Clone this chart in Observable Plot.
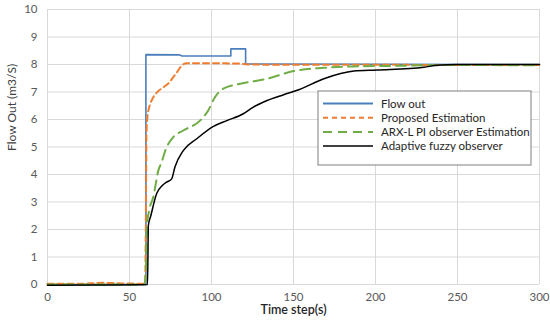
<!DOCTYPE html>
<html><head><meta charset="utf-8">
<script src="https://cdn.jsdelivr.net/npm/d3@7"></script>
<script src="https://cdn.jsdelivr.net/npm/@observablehq/plot@0.6"></script>
<style>
body{margin:0;background:#fff}
#chart{position:relative;width:550px;height:325px}
</style>
</head><body><div id="chart"></div>
<script>
const xTicks = [0, 50, 100, 150, 200, 250, 300];
const yTicks = [0, 1, 2, 3, 4, 5, 6, 7, 8, 9, 10];
const xLabel = "Time step(s)";
const yLabel = "Flow Out (m3/S)";
const seriesNames = ["Flow out", "Proposed Estimation", "ARX-L PI observer Estimation", "Adaptive fuzzy observer"];

const flowT = [0, 60, 60, 80.6, 82, 111.8, 111.8, 120.8, 120.8, 300];
const flowV = [0, 0, 8.36, 8.35, 8.31, 8.31, 8.57, 8.57, 8.02, 8.0];

const propT = [0, 20, 35, 45, 59.5, 60, 60.3, 60.9, 61.8, 63, 64.5, 67, 70.6, 74, 76.7, 79, 81.8, 84.9, 90, 100, 110, 117.6, 122, 150, 200, 250, 300];
const propV = [0.03, 0.03, 0.06, 0.04, 0.03, 2.5, 5.4, 6.08, 6.4, 6.62, 6.81, 7.0, 7.17, 7.33, 7.54, 7.72, 7.96, 8.05, 8.05, 8.05, 8.04, 8.03, 8.0, 7.99, 7.99, 7.98, 7.98];

const arxT = [0, 59, 60, 60.5, 62, 64.5, 67.6, 69.6, 72, 76.7, 82.8, 93, 98, 102.1, 107.2, 117.6, 133.9, 150, 168.5, 186.8, 209, 250, 300];
const arxV = [0, 0, 0.5, 2.08, 2.7, 3.18, 4.15, 4.45, 4.9, 5.36, 5.6, 5.96, 6.33, 6.81, 7.12, 7.3, 7.48, 7.76, 7.88, 7.93, 7.95, 7.98, 7.97];

const fuzzyT = [0, 30, 61, 61.5, 63, 66.5, 70, 72.6, 75.7, 77.7, 82.8, 91, 101.2, 109.3, 119.4, 125.5, 133.9, 144, 153.2, 168.5, 186.8, 201, 229.5, 237.6, 249.8, 300];
const fuzzyV = [-0.03, -0.02, 0, 2.15, 2.5, 3.3, 3.6, 3.72, 3.84, 4.27, 4.87, 5.3, 5.75, 5.96, 6.21, 6.45, 6.69, 6.9, 7.08, 7.48, 7.76, 7.8, 7.9, 7.97, 8.0, 8.0];

const colors = ["#4a7ebb", "#ED7D31", "#70AD47", "#000000"];
const dashes = [null, "6,4", "10,6", null];
const curves = ["linear", "monotone-x", "monotone-x", "monotone-x"];

const toPts = (t, v) => t.map((x, i) => ({x, y: v[i]}));
const series = [toPts(flowT, flowV), toPts(propT, propV), toPts(arxT, arxV), toPts(fuzzyT, fuzzyV)];

const lineMarks = series.map((d, i) => Plot.line(d, {
  x: "x", y: "y", stroke: colors[i], strokeWidth: i === 0 ? 1.6 : (i === 3 ? 1.5 : 2),
  strokeDasharray: dashes[i] || undefined, curve: curves[i]
}));

const chart = Plot.plot({
  width: 550, height: 325,
  marginLeft: 47, marginRight: 11, marginTop: 9, marginBottom: 41,
  style: {fontFamily: "Lato, 'Open Sans', sans-serif", fontSize: "11.5px", color: "#595959", background: "#fff", overflow: "visible"},
  x: {domain: [0, 300]},
  y: {domain: [0, 10]},
  marks: [
    Plot.gridX(xTicks, {stroke: "#d9d9d9", strokeOpacity: 1, strokeWidth: 1}),
    Plot.gridY(yTicks, {stroke: "#d9d9d9", strokeOpacity: 1, strokeWidth: 1}),
    Plot.axisX(xTicks, {tickSize: 0, tickPadding: 8, label: null, fill: "#595959"}),
    Plot.axisY(yTicks, {tickSize: 0, tickPadding: 10, label: null, fill: "#595959"}),
    ...lineMarks,
    Plot.text([xLabel], {frameAnchor: "bottom", dy: 29, fontSize: 12.5, fontWeight: 600, fill: "#262626"}),
    Plot.text([yLabel], {frameAnchor: "left", dx: -35, dy: 4, rotate: -90, fontSize: 12, fill: "#404040"})
  ]
});
document.getElementById("chart").appendChild(chart);

// Legend inside the plot area
const svg = d3.select(chart);
const lg = svg.append("g").attr("transform", "translate(318,91)");
lg.append("rect").attr("width", 213).attr("height", 74).attr("fill", "#fff").attr("stroke", "#7f7f7f").attr("stroke-width", 1);
seriesNames.forEach((name, i) => {
  const y = 12.5 + i * 14.2;
  lg.append("line").attr("x1", 5).attr("x2", 55).attr("y1", y).attr("y2", y)
    .attr("stroke", colors[i]).attr("stroke-width", i === 3 ? 1.5 : 2)
    .attr("stroke-dasharray", dashes[i] ? (i === 1 ? "5,4" : "9,6") : null);
  lg.append("text").attr("x", 63).attr("y", y).attr("dy", "0.35em")
    .attr("text-anchor", "start")
    .attr("font-family", "Lato, 'Open Sans', sans-serif").attr("font-size", 11.5)
    .attr("fill", "#262626").text(name);
});
</script>
</body></html>
